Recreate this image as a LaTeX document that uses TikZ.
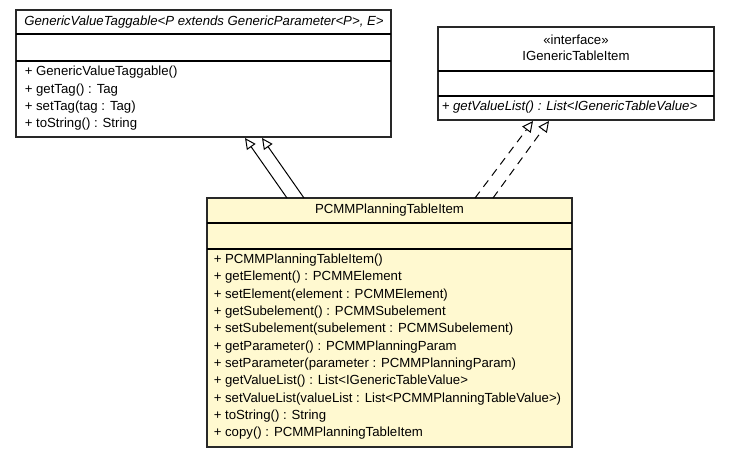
\documentclass[tikz,border=0pt]{standalone}
\usepackage{fontspec}
\setmainfont{Liberation Sans}
\usetikzlibrary{arrows.meta,fit}
\definecolor{noteyellow}{RGB}{255,249,208}
\definecolor{boxline}{RGB}{40,40,40}
\newcommand{\umlfont}{\fontsize{9.9pt}{13pt}\selectfont}
\begin{document}
\begin{tikzpicture}[x=0.75pt,y=-0.75pt,
  box/.style={draw=boxline, line width=0.9pt, inner sep=0pt},
  sepline/.style={draw=black, line width=0.9pt},
  mem/.style={anchor=west, inner sep=0pt, font=\umlfont},
  ttl/.style={anchor=center, inner sep=0pt, font=\umlfont},
  gen/.style={-{Triangle[open,length=8.2pt,width=7.8pt,fill=white]}, line width=0.75pt, draw=black},
  realz/.style={gen, dash pattern=on 6pt off 4.5pt}]
\useasboundingbox[fill=white] (0,0) rectangle (730,457);

% Box A
\coordinate (A1) at (16,10);
\coordinate (A2) at (391,137);
\node[box, fill=white, fit=(A1)(A2)] (A) {};
\draw[sepline] (16,34) -- (391,34);
\draw[sepline] (16,61) -- (391,61);
\node[ttl] (Atitle) at (204,22) {\itshape GenericValueTaggable<P extends GenericParameter<P>, E>};
\foreach \t [count=\i from 0] in {+ GenericValueTaggable(), + getTag() : Tag, + setTag(tag : Tag), + toString() : String}
  \node[mem] (am\i) at (24.5,72.5+17.3*\i) {\t};

% Box B
\coordinate (B1) at (438,27);
\coordinate (B2) at (714,120);
\node[box, fill=white, fit=(B1)(B2)] (B) {};
\draw[sepline] (438,71) -- (714,71);
\draw[sepline] (438,96) -- (714,96);
\node[ttl] (Bster) at (576,40) {«interface»};
\node[ttl] (Btitle) at (576,56) {IGenericTableItem};
\node[mem] (bm0) at (441.5,107.5) {\itshape + getValueList() : List<IGenericTableValue>};

% Box C
\coordinate (C1) at (207,198);
\coordinate (C2) at (572,447);
\node[box, fill=noteyellow, fit=(C1)(C2)] (C) {};
\draw[sepline] (207,223) -- (572,223);
\draw[sepline] (207,249) -- (572,249);
\node[ttl] (Ctitle) at (389.5,210.5) {PCMMPlanningTableItem};
\foreach \t [count=\i from 0] in {
  + PCMMPlanningTableItem(),
  + getElement() : PCMMElement,
  + setElement(element : PCMMElement),
  + getSubelement() : PCMMSubelement,
  + setSubelement(subelement : PCMMSubelement),
  + getParameter() : PCMMPlanningParam,
  + setParameter(parameter : PCMMPlanningParam),
  + getValueList() : List<IGenericTableValue>,
  + setValueList(valueList : List<PCMMPlanningTableValue>),
  + toString() : String,
  + copy() : PCMMPlanningTableItem}
  \node[mem] (cm\i) at (213.5,260+17.35*\i) {\t};

% Connectors
\coordinate (g1s) at (287,198);
\coordinate (g1e) at (245,138);
\coordinate (g2s) at (304,198);
\coordinate (g2e) at (262,138);
\coordinate (r1s) at (475,198);
\coordinate (r1e) at (533,121);
\coordinate (r2s) at (493,198);
\coordinate (r2e) at (549,121);
\draw[gen] (g1s) -- (g1e);
\draw[gen] (g2s) -- (g2e);
\draw[realz] (r1s) -- (r1e);
\draw[realz] (r2s) -- (r2e);
\end{tikzpicture}
\end{document}
